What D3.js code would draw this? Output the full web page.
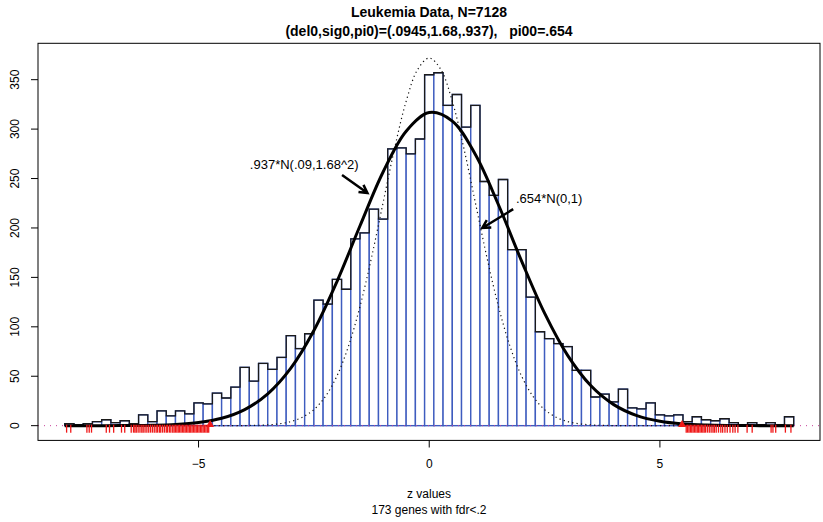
<!DOCTYPE html>
<html>
<head>
<meta charset="utf-8">
<script src="https://cdn.jsdelivr.net/npm/d3@7"></script>
<style>
  body { margin: 0; background: #fff; }
  svg { display: block; font-family: "Liberation Sans", Arial, Helvetica, sans-serif; }
</style>
</head>
<body>
<div id="chart"></div>
<script>
// histogram bins (z centres, width .2) and counts
var binWidth = 0.2;
var binCenters = [-7.8,-7.6,-7.4,-7.2,-7.0,-6.8,-6.6,-6.4,-6.2,-6.0,-5.8,-5.6,-5.4,-5.2,-5.0,-4.8,-4.6,-4.4,-4.2,-4.0,
  -3.8,-3.6,-3.4,-3.2,-3.0,-2.8,-2.6,-2.4,-2.2,-2.0,-1.8,-1.6,-1.4,-1.2,-1.0,-0.8,-0.6,-0.4,-0.2,0.0,
  0.2,0.4,0.6,0.8,1.0,1.2,1.4,1.6,1.8,2.0,2.2,2.4,2.6,2.8,3.0,3.2,3.4,3.6,3.8,4.0,
  4.2,4.4,4.6,4.8,5.0,5.2,5.4,5.6,5.8,6.0,6.2,6.4,6.6,6.8,7.0,7.2,7.4,7.6,7.8];
var counts = [2,1,2,4,6,3,5,2,11,4,15,10,15,12,23,22,33,28,39,59,
  45,63,57,69,91,78,93,127,123,148,138,189,195,219,209,280,281,275,290,355,
  357,324,335,302,324,247,233,249,178,178,130,95,88,83,80,56,56,29,32,24,
  37,18,17,23,11,10,11,4,9,6,5,7,3,1,3,1,3,1,9];

// fitted mixture curve .937*N(.09,1.68^2)
var mixZ = [-7.9,-7.5,-7,-6.5,-6,-5.5,-5,-4.5,-4,-3.5,-3,-2.5,-2,-1.5,-1,-0.5,0,0.5,1,1.5,2,2.5,3,3.5,4,4.5,5,5.5,6,6.5,7,7.5,7.9];
var mixY = [0,0.01,0.04,0.14,0.44,1.24,3.2,7.5,16.3,32.2,58.2,96.3,145.8,202.2,256.6,297.9,316.7,308.1,274.3,223.5,166.7,113.8,71.1,40.6,21.3,10.2,4.5,1.8,0.66,0.22,0.07,0.02,0.01];

// null curve .654*N(0,1)
var nullZ = [-7.9,-6,-5,-4.5,-4,-3.75,-3.5,-3.25,-3,-2.75,-2.5,-2.25,-2,-1.75,-1.5,-1.25,-1,-0.75,-0.5,-0.25,0,
  0.25,0.5,0.75,1,1.25,1.5,1.75,2,2.25,2.5,2.75,3,3.25,3.5,3.75,4,4.5,5,6,7.9];
var nullY = [0,0,0,0.02,0.12,0.33,0.81,1.89,4.13,8.48,16.3,29.6,50.3,80.4,120.7,170.3,225.6,280.7,328.2,360.4,371.9,
  360.4,328.2,280.7,225.6,170.3,120.7,80.4,50.3,29.6,16.3,8.48,4.13,1.89,0.81,0.33,0.12,0.02,0,0,0];

// z values of the genes with fdr < .2 (rug)
var rugLeft = [-7.86,-7.77,-7.42,-7.37,-7.32,-7.0,-6.93,-6.84,-6.67,-6.6,-6.46,-6.41,-6.38,-6.35,-6.31,-6.27,-6.23,-6.2,
  -6.16,-6.12,-6.08,-6.04,-6.0,-5.96,-5.92,-5.89,-5.85,-5.82,-5.78,-5.74,-5.7,-5.67,-5.63,-5.6,-5.56,-5.53,-5.5,
  -5.47,-5.44,-5.41,-5.38,-5.35,-5.32,-5.29,-5.26,-5.23,-5.2,-5.17,-5.14,-5.11,-5.08,-5.05,-5.02,-4.99,-4.96,
  -4.93,-4.9,-4.87,-4.84,-4.81,-4.78];
var rugRight = [5.57,5.6,5.63,5.66,5.69,5.72,5.75,5.78,5.81,5.84,5.87,5.9,5.93,5.96,5.99,6.03,6.07,6.11,6.15,6.18,
  6.22,6.27,6.32,6.36,6.41,6.46,6.52,6.58,6.63,6.69,6.89,7.0,7.41,7.45,7.51,7.72,7.84];
var cutoffs = [-4.75, 5.48];

var yTicks = [0,50,100,150,200,250,300,350];
var xTicks = [-5,0,5];

var width = 823, height = 522;
var svg = d3.select("#chart").append("svg")
  .attr("width", width).attr("height", height);

var x = d3.scaleLinear().domain([-8.48, 8.47]).range([38, 820]);
var y = d3.scaleLinear().domain([-14.9, 386.8]).range([440.4, 43.3]);

// histogram bars with blue borders
svg.append("g").selectAll("rect")
  .data(binCenters)
  .enter().append("rect")
    .attr("x", function(d) { return x(d - binWidth / 2); })
    .attr("y", function(d, i) { return y(counts[i]); })
    .attr("width", function(d) { return x(d + binWidth / 2) - x(d - binWidth / 2); })
    .attr("height", function(d, i) { return y(0) - y(counts[i]); })
    .attr("fill", "#fff")
    .attr("stroke", "#3e5cbf")
    .attr("stroke-width", 1.4);

// black outline of the histogram
var steps = [[binCenters[0] - binWidth / 2, 0]];
binCenters.forEach(function(c, i) {
  steps.push([c - binWidth / 2, counts[i]]);
  steps.push([c + binWidth / 2, counts[i]]);
});
steps.push([binCenters[binCenters.length - 1] + binWidth / 2, 0]);
svg.append("path")
  .datum(steps)
  .attr("d", d3.line().x(function(d) { return x(d[0]); }).y(function(d) { return y(d[1]); }))
  .attr("fill", "none")
  .attr("stroke", "#1a1a1a")
  .attr("stroke-width", 1.3);

// zero line
svg.append("line")
  .attr("x1", 38).attr("x2", 820)
  .attr("y1", y(0)).attr("y2", y(0))
  .attr("stroke", "#c8409a")
  .attr("stroke-width", 1)
  .attr("stroke-dasharray", "1,5");

// null curve (dotted)
svg.append("path")
  .datum(nullZ.map(function(z, i) { return [z, nullY[i]]; }))
  .attr("d", d3.line().curve(d3.curveCatmullRom)
    .x(function(d) { return x(d[0]); }).y(function(d) { return y(d[1]); }))
  .attr("fill", "none")
  .attr("stroke", "#111")
  .attr("stroke-width", 1.2)
  .attr("stroke-dasharray", "1.2,3.2");

// mixture fit (thick)
svg.append("path")
  .datum(mixZ.map(function(z, i) { return [z, mixY[i]]; }))
  .attr("d", d3.line().curve(d3.curveCatmullRom)
    .x(function(d) { return x(d[0]); }).y(function(d) { return y(d[1]); }))
  .attr("fill", "none")
  .attr("stroke", "#000")
  .attr("stroke-width", 3);

// rug of significant genes
svg.append("g").selectAll("line")
  .data(rugLeft.concat(rugRight))
  .enter().append("line")
    .attr("x1", function(d) { return x(d); }).attr("x2", function(d) { return x(d); })
    .attr("y1", y(0) - 1).attr("y2", y(0) + 7)
    .attr("stroke", "#f01818")
    .attr("stroke-width", 1.3);

svg.append("g").selectAll("path")
  .data(cutoffs)
  .enter().append("path")
    .attr("d", d3.symbol().type(d3.symbolTriangle).size(28))
    .attr("transform", function(d) { return "translate(" + x(d) + "," + (y(0) - 1) + ")"; })
    .attr("fill", "#f01818");

// plot box
svg.append("rect")
  .attr("x", 38).attr("y", 43.3)
  .attr("width", 782).attr("height", 440.4 - 43.3)
  .attr("fill", "none").attr("stroke", "#000").attr("stroke-width", 1);

// y axis
var yAxis = svg.append("g");
yAxis.selectAll("line").data(yTicks).enter().append("line")
  .attr("x1", 31).attr("x2", 38)
  .attr("y1", function(d) { return y(d); }).attr("y2", function(d) { return y(d); })
  .attr("stroke", "#000");
yAxis.selectAll("text").data(yTicks).enter().append("text")
  .attr("transform", function(d) { return "translate(19," + y(d) + ") rotate(-90)"; })
  .attr("text-anchor", "middle")
  .attr("font-size", 12)
  .text(function(d) { return d; });

// x axis
var xAxis = svg.append("g");
xAxis.selectAll("line").data(xTicks).enter().append("line")
  .attr("x1", function(d) { return x(d); }).attr("x2", function(d) { return x(d); })
  .attr("y1", 440.4).attr("y2", 447.5)
  .attr("stroke", "#000");
xAxis.selectAll("text").data(xTicks).enter().append("text")
  .attr("x", function(d) { return x(d); })
  .attr("y", 468)
  .attr("text-anchor", "middle")
  .attr("font-size", 12)
  .text(function(d) { return d < 0 ? "\u2212" + Math.abs(d) : d; });

// titles
svg.append("text").attr("x", 429).attr("y", 17)
  .attr("text-anchor", "middle").attr("font-size", 14).attr("font-weight", "bold")
  .text("Leukemia Data, N=7128");
svg.append("text").attr("x", 429).attr("y", 36)
  .attr("text-anchor", "middle").attr("font-size", 14).attr("font-weight", "bold")
  .style("white-space", "pre")
  .text("(del0,sig0,pi0)=(.0945,1.68,.937),   pi00=.654");
svg.append("text").attr("x", 429).attr("y", 498)
  .attr("text-anchor", "middle").attr("font-size", 12)
  .text("z values");
svg.append("text").attr("x", 429).attr("y", 514)
  .attr("text-anchor", "middle").attr("font-size", 12)
  .text("173 genes with fdr<.2");

// curve labels with arrows
var notes = [
  { label: ".937*N(.09,1.68^2)", tz: -2.71, ty: 263.7, from: [-1.89, 253.6], to: [-1.34, 235.4] },
  { label: ".654*N(0,1)", tz: 2.6, ty: 230, from: [1.82, 219], to: [1.15, 200] }
];
notes.forEach(function(n) {
  svg.append("text").attr("x", x(n.tz)).attr("y", y(n.ty))
    .attr("text-anchor", "middle").attr("dominant-baseline", "central")
    .attr("font-size", 13).text(n.label);
  var x1 = x(n.from[0]), y1 = y(n.from[1]), x2 = x(n.to[0]), y2 = y(n.to[1]);
  var a = Math.atan2(y2 - y1, x2 - x1), len = 9, spread = 0.5;
  svg.append("path")
    .attr("d", "M" + x1 + "," + y1 + "L" + x2 + "," + y2 +
      "M" + (x2 - len * Math.cos(a - spread)) + "," + (y2 - len * Math.sin(a - spread)) +
      "L" + x2 + "," + y2 +
      "L" + (x2 - len * Math.cos(a + spread)) + "," + (y2 - len * Math.sin(a + spread)))
    .attr("fill", "none").attr("stroke", "#000").attr("stroke-width", 2.5);
});
</script>
</body>
</html>
